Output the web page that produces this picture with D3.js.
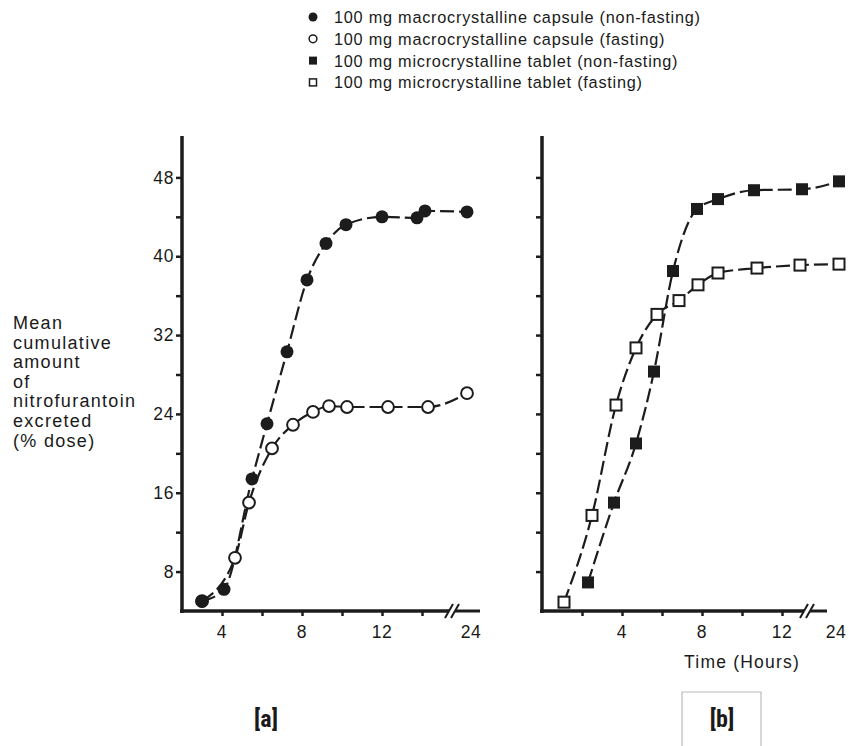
<!DOCTYPE html>
<html>
<head>
<meta charset="utf-8">
<script src="https://cdn.jsdelivr.net/npm/d3@7"></script>
<style>
  body { margin: 0; background: #fff; }
  svg text { font-family: "Liberation Sans", Arial, sans-serif; fill: #1a1a1a; }
</style>
</head>
<body>
<script>
var width = 849;
var height = 746;
var ink = "#1c1c1c";

// legend entries
var seriesNames = [
  "100 mg macrocrystalline capsule (non-fasting)",
  "100 mg macrocrystalline capsule (fasting)",
  "100 mg microcrystalline tablet (non-fasting)",
  "100 mg microcrystalline tablet (fasting)"
];
var seriesMarkers = ["circle-filled", "circle-open", "square-filled", "square-open"];

// panel [a]: macrocrystalline capsule
var capsuleHoursNF = [3, 4.1, 5.5, 6.25, 7.25, 8.25, 9.2, 10.2, 12, 13.75, 14.15, 24];
var capsuleNF = [5.0, 6.2, 17.4, 23.0, 30.3, 37.6, 41.3, 43.2, 44.0, 43.9, 44.6, 44.5];
var capsuleHoursF = [3, 4.65, 5.35, 6.5, 7.55, 8.55, 9.35, 10.25, 12.3, 14.3, 24];
var capsuleF = [5.0, 9.4, 15.0, 20.5, 22.9, 24.2, 24.8, 24.7, 24.7, 24.7, 26.1];

// panel [b]: microcrystalline tablet
var tabletHoursNF = [2.3, 3.6, 4.7, 5.6, 6.55, 7.75, 8.8, 10.6, 13, 24];
var tabletNF = [6.9, 15.0, 21.0, 28.3, 38.5, 44.8, 45.8, 46.7, 46.8, 47.6];
var tabletHoursF = [1.1, 2.5, 3.7, 4.7, 5.75, 6.85, 7.8, 8.8, 10.75, 12.9, 24];
var tabletF = [4.9, 13.7, 24.9, 30.7, 34.1, 35.5, 37.1, 38.3, 38.8, 39.1, 39.2];

// axes
var yTicks = [8, 12, 16, 20, 24, 28, 32, 36, 40, 44, 48];
var yTickLabels = [8, 16, 24, 32, 40, 48];
var xTicksA = [4, 6, 8, 10, 12, 14];
var xTicksB = [2, 4, 6, 8, 10, 12];
var xTickLabels = [4, 8, 12, 24];
var yTitleLines = ["Mean", "cumulative", "amount", "of", "nitrofurantoin", "excreted", "(% dose)"];

var svg = d3.select("body").append("svg")
  .attr("width", width)
  .attr("height", height);

var y = d3.scaleLinear().domain([4, 52]).range([611, 138]);

var panels = [
  {
    x: d3.scaleLinear().domain([2, 15.5, 24]).range([182, 452, 467]),
    axisEnd: 480, ticks: xTicksA, showYLabels: true, label: "[a]", labelX: 266, lastLabelShift: 4,
    series: [
      { hours: capsuleHoursF, values: capsuleF, marker: "circle-open" },
      { hours: capsuleHoursNF, values: capsuleNF, marker: "circle-filled" }
    ]
  },
  {
    x: d3.scaleLinear().domain([0, 13.25, 24]).range([542, 807, 839]),
    axisEnd: 827, ticks: xTicksB, showYLabels: false, label: "[b]", labelX: 722, lastLabelShift: -3,
    series: [
      { hours: tabletHoursF, values: tabletF, marker: "square-open" },
      { hours: tabletHoursNF, values: tabletNF, marker: "square-filled" }
    ]
  }
];

function drawMarker(sel, kind, big) {
  var r = big ? 6.5 : 4.5;
  sel.each(function() {
    var g = d3.select(this);
    if (kind === "circle-filled") {
      g.append("circle").attr("r", r).attr("fill", ink);
    } else if (kind === "circle-open") {
      g.append("circle").attr("r", r - 0.6).attr("fill", "#fff")
        .attr("stroke", ink).attr("stroke-width", big ? 2 : 1.5);
    } else if (kind === "square-filled") {
      g.append("rect").attr("x", -r + 0.5).attr("y", -r + 0.5)
        .attr("width", 2 * r - 1).attr("height", 2 * r - 1).attr("fill", ink);
    } else {
      g.append("rect").attr("x", -r + 1).attr("y", -r + 1)
        .attr("width", 2 * r - 2).attr("height", 2 * r - 2).attr("fill", "#fff")
        .attr("stroke", ink).attr("stroke-width", big ? 2 : 1.5);
    }
  });
}

panels.forEach(function(p) {
  var g = svg.append("g");
  var x = p.x;
  var x0 = x.range()[0];
  var breakX = x(x.domain()[1]);

  // y axis
  var yAxis = g.append("g")
    .attr("transform", "translate(" + x0 + ",0)")
    .call(d3.axisLeft(y).tickValues(yTicks).tickSize(6)
      .tickFormat(function(d) { return p.showYLabels && yTickLabels.indexOf(d) >= 0 ? d : ""; }));
  yAxis.select(".domain").remove();
  yAxis.selectAll(".tick line").attr("stroke", ink).attr("stroke-width", 2.5);
  yAxis.selectAll(".tick text")
    .attr("font-size", 17.5).attr("letter-spacing", 0.6).attr("fill", "#1a1a1a")
    .attr("font-family", "Liberation Sans, Arial, sans-serif").attr("x", -8);
  g.append("line")
    .attr("x1", x0).attr("x2", x0)
    .attr("y1", y.range()[1] - 2).attr("y2", y.range()[0] + 2)
    .attr("stroke", ink).attr("stroke-width", 3.5);

  // x axis, broken before 24 h
  var xAxis = g.append("g")
    .attr("transform", "translate(0," + y.range()[0] + ")")
    .call(d3.axisBottom(x).tickValues(p.ticks).tickSize(5).tickFormat(""));
  xAxis.select(".domain").remove();
  xAxis.selectAll(".tick line").attr("stroke", ink).attr("stroke-width", 2.5);

  var yb = y.range()[0];
  g.append("line").attr("x1", x0 - 2).attr("x2", breakX - 3)
    .attr("y1", yb).attr("y2", yb).attr("stroke", ink).attr("stroke-width", 3.5);
  g.append("line").attr("x1", breakX + 3).attr("x2", p.axisEnd)
    .attr("y1", yb).attr("y2", yb).attr("stroke", ink).attr("stroke-width", 3);
  [-3, 3].forEach(function(dx) {
    g.append("line")
      .attr("x1", breakX + dx - 4).attr("y1", yb + 7)
      .attr("x2", breakX + dx + 4).attr("y2", yb - 7)
      .attr("stroke", ink).attr("stroke-width", 2);
  });

  g.selectAll("text.xlab").data(xTickLabels).enter().append("text")
    .attr("class", "xlab")
    .attr("x", function(d) { return x(d) + (d === 24 ? p.lastLabelShift : 0); })
    .attr("y", yb + 27)
    .attr("text-anchor", "middle")
    .attr("font-size", 17.5).attr("letter-spacing", 0.6)
    .text(function(d) { return d; });

  // curves
  var line = d3.line()
    .x(function(d) { return x(d[0]); })
    .y(function(d) { return y(d[1]); })
    .curve(d3.curveMonotoneX);

  p.series.forEach(function(s) {
    var pts = d3.zip(s.hours, s.values);
    g.append("path")
      .datum(pts)
      .attr("d", line)
      .attr("fill", "none")
      .attr("stroke", ink)
      .attr("stroke-width", 2.2)
      .attr("stroke-dasharray", "14,5");
  });
  p.series.forEach(function(s) {
    var pts = d3.zip(s.hours, s.values);
    g.selectAll(null).data(pts).enter().append("g")
      .attr("transform", function(d) { return "translate(" + x(d[0]) + "," + y(d[1]) + ")"; })
      .call(drawMarker, s.marker, true);
  });

  g.append("text")
    .attr("x", p.labelX).attr("y", 727)
    .attr("text-anchor", "middle")
    .attr("font-size", 24).attr("font-weight", "bold")
    .style("font-family", "'Liberation Sans Narrow', 'Roboto Condensed', sans-serif")
    .attr("fill", "#111")
    .text(p.label);
});

// box around [b]
svg.append("path")
  .attr("d", "M682,746 V692 H761 V746")
  .attr("fill", "none").attr("stroke", "#bbb").attr("stroke-width", 1.2);

// x axis title on panel b
svg.append("text")
  .attr("x", 742).attr("y", 668)
  .attr("text-anchor", "middle")
  .attr("font-size", 17.5).attr("letter-spacing", 1.2)
  .text("Time (Hours)");

// y axis title
svg.append("g").selectAll("text").data(yTitleLines).enter().append("text")
  .attr("x", 13)
  .attr("y", function(d, i) { return 329 + i * 19.6; })
  .attr("font-size", 18).attr("letter-spacing", 1.3)
  .text(function(d) { return d; });

// legend
var legend = svg.append("g").selectAll("g").data(seriesNames).enter().append("g")
  .attr("transform", function(d, i) { return "translate(313," + (17 + i * 21.8) + ")"; });
legend.each(function(d, i) {
  d3.select(this).call(drawMarker, seriesMarkers[i], false);
});
legend.append("text")
  .attr("x", 21).attr("y", 6)
  .attr("font-size", 16.3).attr("letter-spacing", 0.75)
  .text(function(d) { return d; });
</script>
</body>
</html>
